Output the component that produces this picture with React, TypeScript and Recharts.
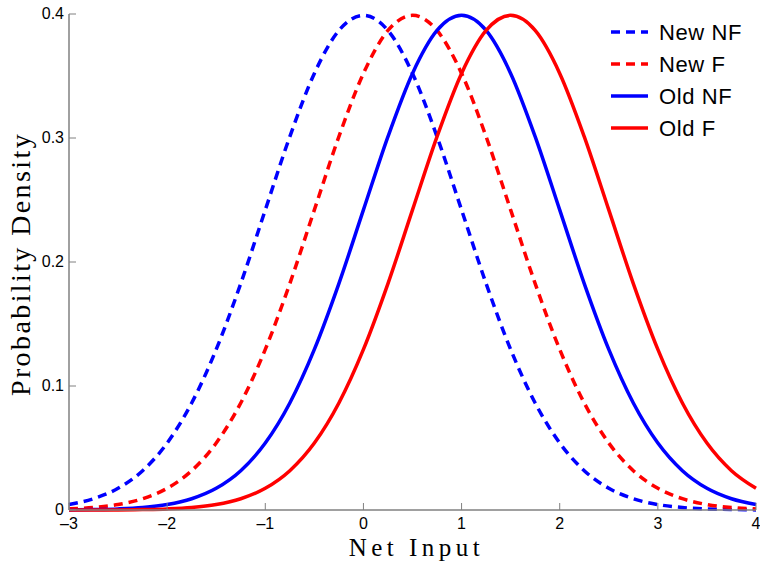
import React from 'react';
import { LineChart, Line, XAxis, YAxis, Legend } from 'recharts';

const X_VALUES = [-3, -2.75, -2.5, -2.25, -2, -1.75, -1.5, -1.25, -1, -0.75, -0.5, -0.25, 0, 0.25, 0.5, 0.75, 1, 1.25, 1.5, 1.75, 2, 2.25, 2.5, 2.75, 3, 3.25, 3.5, 3.75, 4];

const NEW_NF = [0.0044, 0.0091, 0.0175, 0.0317, 0.054, 0.0863, 0.1295, 0.1826, 0.242, 0.3011, 0.3521, 0.3867, 0.3989, 0.3867, 0.3521, 0.3011, 0.242, 0.1826, 0.1295, 0.0863, 0.054, 0.0317, 0.0175, 0.0091, 0.0044, 0.002, 0.0009, 0.0004, 0.0001];
const NEW_F = [0.0009, 0.002, 0.0044, 0.0091, 0.0175, 0.0317, 0.054, 0.0863, 0.1295, 0.1826, 0.242, 0.3011, 0.3521, 0.3867, 0.3989, 0.3867, 0.3521, 0.3011, 0.242, 0.1826, 0.1295, 0.0863, 0.054, 0.0317, 0.0175, 0.0091, 0.0044, 0.002, 0.0009];
const OLD_NF = [0.0001, 0.0004, 0.0009, 0.002, 0.0044, 0.0091, 0.0175, 0.0317, 0.054, 0.0863, 0.1295, 0.1826, 0.242, 0.3011, 0.3521, 0.3867, 0.3989, 0.3867, 0.3521, 0.3011, 0.242, 0.1826, 0.1295, 0.0863, 0.054, 0.0317, 0.0175, 0.0091, 0.0044];
const OLD_F = [0.00002, 0.00005, 0.0001, 0.0004, 0.0009, 0.002, 0.0044, 0.0091, 0.0175, 0.0317, 0.054, 0.0863, 0.1295, 0.1826, 0.242, 0.3011, 0.3521, 0.3867, 0.3989, 0.3867, 0.3521, 0.3011, 0.242, 0.1826, 0.1295, 0.0863, 0.054, 0.0317, 0.0175];

const X_TICKS = [-3, -2, -1, 0, 1, 2, 3, 4];
const X_TICK_LABELS = ['\u20133', '\u20132', '\u20131', '0', '1', '2', '3', '4'];
const Y_TICKS = [0, 0.1, 0.2, 0.3, 0.4];
const Y_TICK_LABELS = ['0', '0.1', '0.2', '0.3', '0.4'];

const SERIES = [
  { key: 'newNF', name: 'New NF', color: '#0000ff', dash: '9 6' },
  { key: 'newF', name: 'New F', color: '#ff0000', dash: '9 6' },
  { key: 'oldNF', name: 'Old NF', color: '#0000ff', dash: undefined },
  { key: 'oldF', name: 'Old F', color: '#ff0000', dash: undefined },
];

const data = X_VALUES.map((x, i) => ({
  x,
  newNF: NEW_NF[i],
  newF: NEW_F[i],
  oldNF: OLD_NF[i],
  oldF: OLD_F[i],
}));

const AXIS_COLOR = '#808080';
const TICK_FONT = '"Liberation Sans", Arial, sans-serif';
const LABEL_FONT = '"Liberation Serif", "DejaVu Serif", serif';

const XTick = (props: any) => {
  const { x, y, payload } = props;
  const idx = X_TICKS.indexOf(payload.value);
  return (
    <g>
      <line x1={x} y1={y} x2={x} y2={y - 7} stroke={AXIS_COLOR} strokeWidth={1} />
      <text x={x} y={y + 19} textAnchor="middle" fontFamily={TICK_FONT} fontSize={16} fill="#000">
        {X_TICK_LABELS[idx]}
      </text>
    </g>
  );
};

const YTick = (props: any) => {
  const { x, y, payload } = props;
  const idx = Y_TICKS.indexOf(payload.value);
  return (
    <g>
      <line x1={x} y1={y} x2={x + 7} y2={y} stroke={AXIS_COLOR} strokeWidth={1} />
      <text x={x - 5} y={y + 5} textAnchor="end" fontFamily={TICK_FONT} fontSize={16} fill="#000">
        {Y_TICK_LABELS[idx]}
      </text>
    </g>
  );
};

const LegendContent = () => (
  <svg width={160} height={150}>
    {SERIES.map((s, i) => {
      const cy = 32 + i * 32;
      return (
        <g key={s.key}>
          <line x1={11} y1={cy} x2={48} y2={cy} stroke={s.color} strokeWidth={3.5} strokeDasharray={s.dash} />
          <text x={59} y={cy + 8} fontFamily={TICK_FONT} fontSize={22} letterSpacing={0.6} fill="#000">
            {s.name}
          </text>
        </g>
      );
    })}
  </svg>
);

export default function App() {
  return (
    <div style={{ position: 'absolute', left: 0, top: 0, background: '#fff' }}>
      <LineChart width={760} height={568} data={data} margin={{ top: 14, right: 4, bottom: 28, left: 9 }}>
        <XAxis
          dataKey="x"
          type="number"
          domain={[-3, 4]}
          ticks={X_TICKS}
          interval={0}
          height={30}
          tickSize={0}
          tickMargin={0}
          tickLine={false}
          axisLine={{ stroke: AXIS_COLOR, strokeWidth: 1.5 }}
          tick={<XTick />}
          label={{
            content: (p: any) => {
              const vb = p.viewBox;
              return (
                <text x={vb.x + vb.width / 2 + 4} y={vb.y + 46} textAnchor="middle" fontFamily={LABEL_FONT} fontSize={25} letterSpacing={4.5} fill="#000">
                  Net Input
                </text>
              );
            },
          }}
        />
        <YAxis
          type="number"
          domain={[0, 0.4]}
          ticks={Y_TICKS}
          interval={0}
          width={60}
          tickSize={0}
          tickMargin={0}
          tickLine={false}
          axisLine={{ stroke: AXIS_COLOR, strokeWidth: 1.5 }}
          tick={<YTick />}
          label={{
            content: (p: any) => {
              const vb = p.viewBox;
              const cx = 30;
              const cy = vb.y + vb.height / 2 + 2;
              return (
                <text x={cx} y={cy} transform={`rotate(-90 ${cx} ${cy})`} textAnchor="middle" fontFamily={LABEL_FONT} fontSize={28} letterSpacing={2.4} fill="#000">
                  Probability Density
                </text>
              );
            },
          }}
        />
        <Legend
          layout="vertical"
          align="center"
          verticalAlign="middle"
          content={<LegendContent />}
          wrapperStyle={{ top: 0, left: 600, width: 160, height: 150 }}
        />
        {SERIES.map((s) => (
          <Line
            key={s.key}
            dataKey={s.key}
            name={s.name}
            type="monotone"
            stroke={s.color}
            strokeWidth={3.5}
            strokeDasharray={s.dash}
            dot={false}
            activeDot={false}
            isAnimationActive={false}
          />
        ))}
      </LineChart>
    </div>
  );
}
